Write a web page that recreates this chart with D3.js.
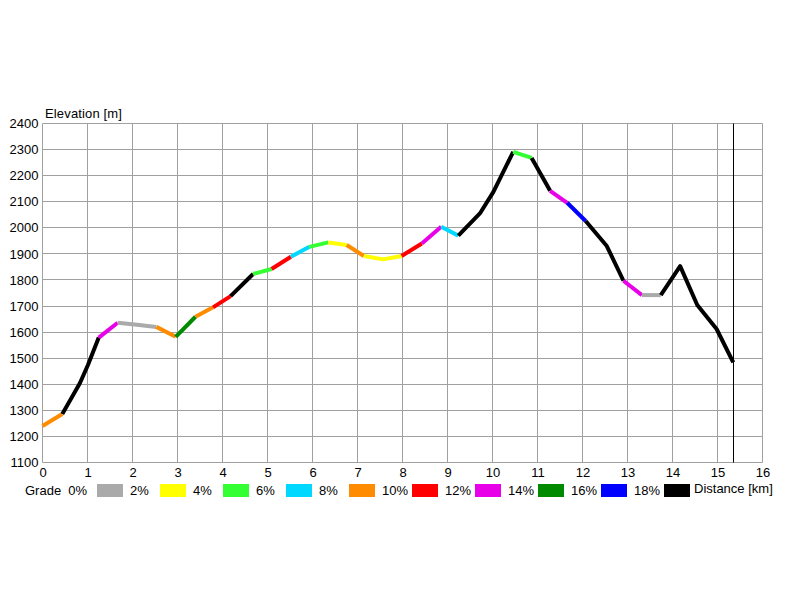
<!DOCTYPE html>
<html><head><meta charset="utf-8">
<script src="https://d3js.org/d3.v7.min.js"></script>
<style>
html,body{margin:0;padding:0;background:#fff;}
svg text{font-family:"Liberation Sans",Arial,sans-serif;font-size:13px;fill:#000;white-space:pre;}
</style></head>
<body>
<script>
// ---- data ----
const distanceKm = [0, 0.44, 0.83, 1.01, 1.25, 1.67, 2.1, 2.53, 2.96, 3.40, 3.79, 4.18, 4.68, 5.09, 5.52, 5.93, 6.35, 6.76, 7.14, 7.57, 7.98, 8.43, 8.86, 9.24, 9.72, 10.02, 10.46, 10.87, 11.28, 11.66, 12.07, 12.54, 12.91, 13.32, 13.74, 14.17, 14.55, 14.98, 15.35];
const elevationM = [1240, 1286, 1404, 1474, 1579, 1636, 1628, 1620, 1582, 1659, 1695, 1738, 1823, 1842, 1889, 1927, 1944, 1934, 1892, 1879, 1892, 1940, 2004, 1970, 2055, 2138, 2291, 2268, 2142, 2096, 2026, 1930, 1797, 1742, 1742, 1853, 1704, 1612, 1484];
// grade class of each segment (index into gradeLabels/gradeColors)
const segmentGrade = [4, 9, 9, 9, 6, 0, 0, 4, 7, 4, 5, 9, 2, 5, 3, 2, 1, 4, 1, 1, 5, 6, 3, 9, 9, 9, 2, 9, 6, 8, 9, 9, 6, 0, 9, 9, 9, 9];
const gradeLabels = ["2%", "4%", "6%", "8%", "10%", "12%", "14%", "16%", "18%", ""];
const gradeColors = ["#aaaaaa", "#ffff00", "#33ff33", "#00d8ff", "#ff8c00", "#ff0000", "#e800e8", "#008a00", "#0000ff", "#000000"];
const xTicks = d3.range(0, 17, 1);
const yTicks = d3.range(1100, 2401, 100);
const markerKm = 15.35;

// ---- chart ----
const W = 800, H = 600;
const svg = d3.select("body").append("svg").attr("width", W).attr("height", H);
const x = d3.scaleLinear().domain([0, 16]).range([42.5, 762.5]);
const y = d3.scaleLinear().domain([1100, 2400]).range([462.5, 123.5]);
const px = v => Math.round(x(v) - 0.5) + 0.5;
const py = v => Math.round(y(v) - 0.5) + 0.5;

const grid = svg.append("g").attr("stroke", "#a0a0a0").attr("stroke-width", 1);
grid.selectAll("line.v").data(xTicks).join("line").attr("class", "v")
  .attr("x1", d => px(d)).attr("x2", d => px(d)).attr("y1", py(2400)).attr("y2", py(1100));
grid.selectAll("line.h").data(yTicks).join("line").attr("class", "h")
  .attr("x1", px(0)).attr("x2", px(16)).attr("y1", d => py(d)).attr("y2", d => py(d));

// axes (labels only)
const yAxis = svg.append("g").attr("transform", `translate(${x(0)},0)`)
  .call(d3.axisLeft(y).tickValues(yTicks).tickSize(0).tickPadding(4).tickFormat(d3.format("d")));
const xAxis = svg.append("g").attr("transform", `translate(0,${y(1100)})`)
  .call(d3.axisBottom(x).tickValues(xTicks).tickSize(0).tickPadding(5).tickFormat(d3.format("d")));
[yAxis, xAxis].forEach(a => { a.select(".domain").remove(); a.selectAll("text").style("font-size", "13px").attr("fill", "#000"); a.attr("font-family", null).attr("font-size", null); });

svg.append("text").attr("x", 45).attr("y", 118).style("letter-spacing", "0.15px").text("Elevation [m]");

// marker line
svg.append("line").attr("x1", px(markerKm)).attr("x2", px(markerKm))
  .attr("y1", py(2400)).attr("y2", py(1100)).attr("stroke", "#000").attr("stroke-width", 1);

// profile: group consecutive same-grade segments
const runs = [];
segmentGrade.forEach((g, i) => {
  const last = runs[runs.length - 1];
  if (last && last.g === g) last.idx.push(i + 1);
  else runs.push({ g, idx: [i, i + 1] });
});
const line = d3.line().x(i => x(distanceKm[i])).y(i => y(elevationM[i]));
svg.append("g").selectAll("path").data(runs).join("path")
  .attr("d", r => line(r.idx)).attr("fill", "none")
  .attr("stroke", r => gradeColors[r.g]).attr("stroke-width", 4)
  .attr("stroke-linejoin", "round").attr("stroke-linecap", "butt");

// legend
const lg = svg.append("g");
lg.append("text").attr("x", 25).attr("y", 495).text("Grade  0%");
gradeColors.forEach((c, i) => {
  const bx = 97 + i * 63.0;
  lg.append("rect").attr("x", bx).attr("y", 484).attr("width", 26).attr("height", 13).attr("fill", c);
  if (gradeLabels[i]) lg.append("text").attr("x", bx + 33).attr("y", 495).text(gradeLabels[i]);
});
lg.append("text").attr("x", 694).attr("y", 493).text("Distance [km]");
</script>
</body></html>
